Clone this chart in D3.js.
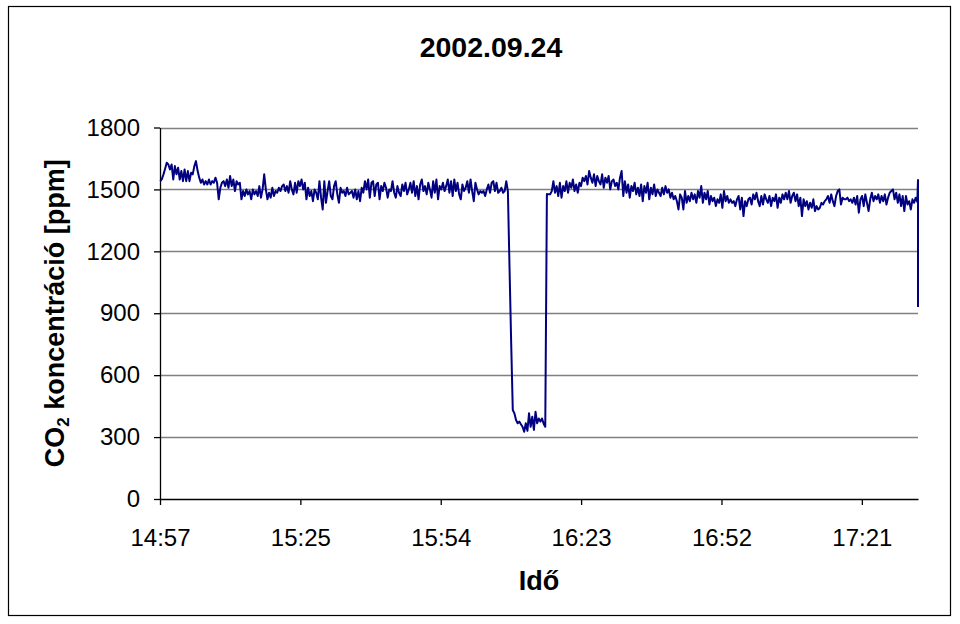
<!DOCTYPE html>
<html>
<head>
<meta charset="utf-8">
<script src="https://cdn.jsdelivr.net/npm/d3@7"></script>
<style>
  html, body { margin: 0; padding: 0; background: #fff; }
</style>
</head>
<body>
<div id="chart"></div>
<script>
// CO2 readings, one sample every 20 s starting 14:57:10 (minutes after midnight)
var sampleStart = 14 * 60 + 57 + 10 / 60;
var sampleStepSec = 20;

var co2 = [
  // before the drop
  1540, 1550, 1573, 1600, 1629, 1621, 1597, 1621, 1548, 1613,
  1573, 1605, 1548, 1589, 1540, 1597, 1540, 1589, 1540, 1581,
  1573, 1613, 1637, 1590, 1557, 1532, 1548, 1524, 1540, 1524,
  1548, 1524, 1540, 1532, 1557, 1532, 1452, 1508, 1532, 1540,
  1516, 1548, 1508, 1565, 1516, 1548, 1492, 1540, 1524, 1532,
  1452, 1492, 1468, 1500, 1476, 1492, 1452, 1500, 1476, 1492,
  1468, 1516, 1460, 1500, 1573, 1500, 1452, 1484, 1460, 1508,
  1468, 1492, 1484, 1508, 1492, 1516, 1524,
  1492, 1516, 1484, 1540, 1500, 1476, 1532, 1484, 1540, 1516,
  1548, 1500, 1532, 1452, 1508, 1468, 1492, 1443, 1500, 1484,
  1452, 1540, 1460, 1403, 1540, 1435, 1492, 1540, 1468, 1452,
  1516, 1540, 1476, 1435, 1508, 1484, 1492, 1468, 1508, 1476,
  1484, 1492, 1460, 1500, 1452, 1492, 1443, 1508, 1484, 1540,
  1500, 1548, 1460, 1532, 1540, 1468, 1524, 1532, 1452, 1516,
  1492, 1532, 1508, 1460, 1500, 1492, 1540, 1484, 1460, 1516,
  1484, 1468, 1524, 1492, 1532, 1476, 1500,
  1532, 1484, 1540, 1468, 1516, 1452, 1524, 1548, 1492, 1516,
  1476, 1532, 1500, 1460, 1540, 1484, 1548, 1452, 1516, 1500,
  1532, 1492, 1516, 1548, 1484, 1540, 1468, 1548, 1492, 1532,
  1476, 1452, 1524, 1492, 1508, 1540, 1484, 1548, 1492, 1443,
  1532, 1500, 1476, 1492, 1484, 1492, 1468, 1500, 1524, 1484,
  1532, 1540, 1492, 1532, 1484, 1492, 1508, 1484, 1492, 1540,
  1490,
  // drop and low period
  1120, 760,
  431, 415, 383, 367, 375, 362, 350, 326, 367, 330,
  415, 350, 399, 335, 423, 367, 390, 375, 390, 365, 350,
  // after
  1478, 1476, 1476, 1492, 1540, 1484, 1516, 1468, 1532, 1460,
  1516, 1492, 1540, 1484, 1532, 1508, 1548, 1492, 1524, 1484,
  1532, 1516, 1557, 1540, 1565, 1524, 1589, 1557, 1532, 1573,
  1516, 1565, 1540, 1524, 1573, 1508, 1557, 1532, 1565, 1500,
  1540, 1548, 1516, 1532, 1500, 1557, 1589, 1468, 1540, 1484,
  1524, 1460, 1516, 1492, 1532, 1476, 1508, 1468, 1524, 1443,
  1516, 1484, 1532, 1452, 1508, 1476, 1524, 1468, 1500, 1484,
  1468, 1508, 1476, 1516, 1484, 1500, 1460, 1484, 1452, 1468,
  1443, 1403, 1476, 1460, 1403, 1492, 1435, 1468, 1443, 1484,
  1452, 1476, 1435, 1492, 1460, 1516, 1435, 1484, 1452, 1492,
  1427, 1468, 1443, 1460, 1419, 1452, 1435, 1476, 1411, 1492,
  1443, 1468, 1435, 1452, 1435, 1443, 1419, 1452, 1468, 1403,
  1460, 1371, 1443, 1419, 1452, 1460, 1427, 1476, 1452, 1484,
  1443, 1419, 1468, 1427, 1476, 1452, 1435, 1468, 1419, 1460,
  1443, 1476, 1411, 1460, 1435, 1476, 1452,
  1484, 1452, 1492, 1435, 1468, 1484, 1443, 1476, 1419, 1460,
  1371, 1452, 1419, 1443, 1403, 1435, 1411, 1452, 1395, 1419,
  1403, 1411, 1435, 1427, 1443, 1452, 1468, 1435, 1476, 1443,
  1419, 1468, 1492, 1500, 1427, 1460, 1452, 1452, 1460, 1443,
  1452, 1435, 1460, 1427, 1468, 1387, 1452, 1468, 1419, 1476,
  1435, 1395, 1452, 1484, 1443, 1468, 1452, 1476, 1435, 1468,
  1443, 1476, 1427, 1460, 1484, 1492, 1500, 1452, 1484, 1435,
  1476, 1419, 1468, 1395, 1468, 1427, 1443, 1403, 1452, 1435,
  1460, 1440,
  // past the axis end (drawn at the right edge)
  1546, 930
];

var yTicks = [0, 300, 600, 900, 1200, 1500, 1800];
var xTickMinutes = [897.12, 925.92, 954.72, 983.52, 1012.32, 1041.12];
var xDomain = [897.12, 1052.64];
var yDomain = [0, 1800];

var titleText = "2002.09.24";
var xTitleText = "Idő";

var attrs = {
    svgWidth: 960,
    svgHeight: 624,
    plotLeft: 160,
    plotRight: 918,
    plotTop: 127.5,
    plotBottom: 499,
    defaultFont: '"Liberation Sans", Arial, sans-serif',
    lineColor: '#000080',
    gridColor: '#808080'
};

var svg = d3.select('#chart').append('svg')
    .attr('width', attrs.svgWidth)
    .attr('height', attrs.svgHeight)
    .attr('font-family', attrs.defaultFont)
    .style('display', 'block');

svg.append('rect')
    .attr('width', attrs.svgWidth)
    .attr('height', attrs.svgHeight)
    .attr('fill', '#fff');

// chart frame
svg.append('rect')
    .attr('x', 8.5)
    .attr('y', 6.5)
    .attr('width', 942)
    .attr('height', 609)
    .attr('fill', 'none')
    .attr('stroke', '#000')
    .attr('stroke-width', 1.2);

//scales
var x = d3.scaleLinear().domain(xDomain).range([attrs.plotLeft, attrs.plotRight]).clamp(true);
var y = d3.scaleLinear().domain(yDomain).range([attrs.plotBottom, attrs.plotTop]);

var fmtTime = function (m) {
    var t = Math.floor(m + 1e-6);
    return Math.floor(t / 60) + ':' + d3.format('02')(t % 60);
};

// gridlines
svg.append('g').attr('class', 'grid')
    .selectAll('line')
    .data(yTicks.filter(d => d > 0))
    .enter().append('line')
    .attr('x1', attrs.plotLeft)
    .attr('x2', attrs.plotRight)
    .attr('y1', d => Math.round(y(d)) + 0.5)
    .attr('y2', d => Math.round(y(d)) + 0.5)
    .attr('stroke', attrs.gridColor)
    .attr('stroke-width', 1.3);

// axes
var yAxis = d3.axisLeft(y).tickValues(yTicks).tickFormat(d3.format('d'))
    .tickSize(6).tickSizeOuter(0).tickPadding(14);
var xAxis = d3.axisBottom(x).tickValues(xTickMinutes).tickFormat(fmtTime)
    .tickSize(6).tickSizeOuter(0).tickPadding(24);

var gy = svg.append('g').attr('transform', 'translate(' + attrs.plotLeft + ',0)').call(yAxis);
var gx = svg.append('g').attr('transform', 'translate(0,' + attrs.plotBottom + ')').call(xAxis);

[gx, gy].forEach(g => {
    g.select('.domain').attr('stroke', '#000').attr('stroke-width', 1.3);
    g.selectAll('.tick line').attr('stroke', '#000').attr('stroke-width', 1.3);
    g.selectAll('.tick text')
        .attr('fill', '#000')
        .attr('font-size', 24)
        .attr('font-family', attrs.defaultFont);
});

// series
var line = d3.line()
    .x((d, i) => x(sampleStart + i * sampleStepSec / 60))
    .y(d => y(d));

svg.append('path')
    .datum(co2)
    .attr('d', line)
    .attr('fill', 'none')
    .attr('stroke', attrs.lineColor)
    .attr('stroke-width', 2)
    .attr('stroke-linejoin', 'round');

// titles
svg.append('text')
    .attr('x', 491)
    .attr('y', 57)
    .attr('text-anchor', 'middle')
    .attr('font-size', 28.5)
    .attr('font-weight', 'bold')
    .text(titleText);

svg.append('text')
    .attr('x', (attrs.plotLeft + attrs.plotRight) / 2)
    .attr('y', 590)
    .attr('text-anchor', 'middle')
    .attr('font-size', 27)
    .attr('font-weight', 'bold')
    .text(xTitleText);

var yTitle = svg.append('text')
    .attr('transform', 'translate(64,' + ((attrs.plotTop + attrs.plotBottom) / 2) + ') rotate(-90)')
    .attr('text-anchor', 'middle')
    .attr('font-size', 27)
    .attr('font-weight', 'bold');
yTitle.append('tspan').text('CO');
yTitle.append('tspan').attr('font-size', 17).attr('dy', 5).text('2');
yTitle.append('tspan').attr('dy', -5).text(' koncentráció [ppm]');
</script>
</body>
</html>
